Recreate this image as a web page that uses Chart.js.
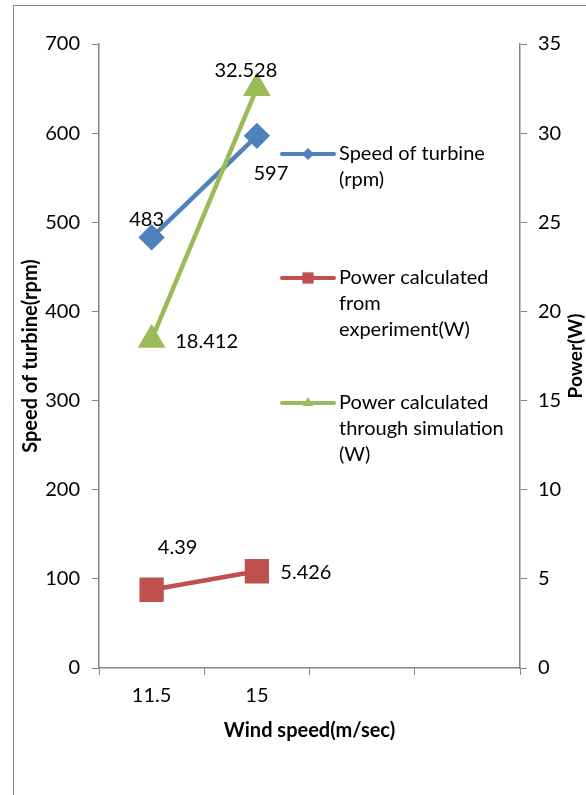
<!DOCTYPE html>
<html>
<head>
<meta charset="utf-8">
<script src="https://cdn.jsdelivr.net/npm/chart.js@4.4.1/dist/chart.umd.min.js"></script>
<style>
  html, body { margin: 0; padding: 0; background: #fff; }
  #wrap { width: 586px; height: 795px; }
</style>
</head>
<body>
<div id="wrap"><canvas id="turbineChart" width="586" height="795"></canvas></div>
<script>
const windSpeeds = ['11.5', '15', '', ''];
const turbineSpeed = [483, 597, null, null];
const powerExperiment = [4.39, 5.426, null, null];
const powerSimulation = [18.412, 32.528, null, null];

const seriesNames = [
  ['Speed of turbine', '(rpm)'],
  ['Power calculated', 'from', 'experiment(W)'],
  ['Power calculated', 'through simulation', '(W)']
];

const BLUE = '#4f81bd';
const RED = '#c0504d';
const GREEN = '#9bbb59';
const AXIS = '#868686';
const FONT = 'Lato, "Open Sans", sans-serif';

// value label offsets from each point (dx, dy)
const labelOffsets = [
  [[-5, -18], [14, 38]],
  [[26, -42], [49, 1]],
  [[55, 2], [-11, -18]]
];
const legendMarkerRadius = [6, 8, 6];

const extras = {
  id: 'extras',
  beforeDraw(chart) {
    const ctx = chart.ctx;
    ctx.save();
    ctx.strokeStyle = AXIS;
    ctx.lineWidth = 1;
    ctx.beginPath();
    ctx.moveTo(13.5, 795);
    ctx.lineTo(13.5, 5.5);
    ctx.lineTo(586, 5.5);
    ctx.stroke();
    ctx.restore();
  },
  afterDraw(chart) {
    const ctx = chart.ctx;
    const area = chart.chartArea;
    ctx.save();
    ctx.fillStyle = '#000';
    ctx.textAlign = 'center';
    ctx.textBaseline = 'middle';

    // value labels
    ctx.font = '20px ' + FONT;
    chart.data.datasets.forEach((ds, i) => {
      const meta = chart.getDatasetMeta(i);
      meta.data.forEach((pt, j) => {
        if (ds.data[j] == null) return;
        const off = labelOffsets[i][j];
        ctx.fillText(String(ds.data[j]), pt.x + off[0], pt.y + off[1]);
      });
    });

    // axis titles
    const midY = (area.top + area.bottom) / 2;
    ctx.font = 'bold 20px ' + FONT;
    ctx.fillText('Wind speed(m/sec)', (area.left + area.right) / 2, 731);
    ctx.save();
    ctx.translate(31, midY);
    ctx.rotate(-Math.PI / 2);
    ctx.fillText('Speed of turbine(rpm)', 0, 0);
    ctx.restore();
    ctx.font = 'bold 19px ' + FONT;
    ctx.save();
    ctx.translate(576, midY);
    ctx.rotate(-Math.PI / 2);
    ctx.fillText('Power(W)', 0, 0);
    ctx.restore();

    // legend
    const legendY = [154, 278, 403];
    ctx.font = '20px ' + FONT;
    ctx.textAlign = 'left';
    chart.data.datasets.forEach((ds, i) => {
      const y = legendY[i];
      ctx.strokeStyle = ds.borderColor;
      ctx.lineWidth = 4;
      ctx.lineCap = 'round';
      ctx.beginPath();
      ctx.moveTo(282, y);
      ctx.lineTo(334, y);
      ctx.stroke();
      ctx.fillStyle = ds.borderColor;
      Chart.helpers.drawPoint(ctx, {
        pointStyle: ds.pointStyle,
        radius: legendMarkerRadius[i],
        rotation: 0,
        borderWidth: 0
      }, 308, y);
      ctx.fillStyle = '#000';
      seriesNames[i].forEach((line, k) => {
        ctx.fillText(line, 339, y + k * 26);
      });
    });
    ctx.restore();
  }
};

new Chart(document.getElementById('turbineChart'), {
  type: 'line',
  data: {
    labels: windSpeeds,
    datasets: [{
      label: 'Speed of turbine (rpm)',
      data: turbineSpeed,
      yAxisID: 'y',
      borderColor: BLUE,
      backgroundColor: BLUE,
      borderWidth: 4.5,
      pointStyle: 'rectRot',
      pointRadius: 10,
      order: 1
    }, {
      label: 'Power calculated from experiment(W)',
      data: powerExperiment,
      yAxisID: 'y1',
      borderColor: RED,
      backgroundColor: RED,
      borderWidth: 4.5,
      pointStyle: 'rect',
      pointRadius: 14,
      order: 2
    }, {
      label: 'Power calculated through simulation (W)',
      data: powerSimulation,
      yAxisID: 'y1',
      borderColor: GREEN,
      backgroundColor: GREEN,
      borderWidth: 4.5,
      pointStyle: 'triangle',
      pointRadius: 11.5,
      order: 0
    }]
  },
  options: {
    responsive: false,
    animation: false,
    layout: { padding: { top: 44, left: 0, right: 0, bottom: 0 } },
    plugins: {
      legend: { display: false },
      tooltip: { enabled: false }
    },
    scales: {
      x: {
        offset: true,
        grid: {
          offset: true,
          drawOnChartArea: false,
          color: AXIS,
          tickLength: 7
        },
        border: { color: AXIS, width: 1.5 },
        ticks: { color: '#000', font: { family: FONT, size: 20 }, padding: 9 },
        afterFit(scale) { scale.height = 127; }
      },
      y: {
        position: 'left',
        min: 0,
        max: 700,
        grid: { drawOnChartArea: false, color: AXIS, tickLength: 7 },
        border: { color: AXIS, width: 1.5 },
        ticks: { stepSize: 100, color: '#000', font: { family: FONT, size: 20 }, padding: 12 },
        afterFit(scale) { scale.width = 99; }
      },
      y1: {
        position: 'right',
        min: 0,
        max: 35,
        grid: { drawOnChartArea: false, color: AXIS, tickLength: 7 },
        border: { color: AXIS, width: 1.5 },
        ticks: { stepSize: 5, color: '#000', font: { family: FONT, size: 20 }, padding: 11 },
        afterFit(scale) { scale.width = 66; }
      }
    }
  },
  plugins: [extras]
});
</script>
</body>
</html>
